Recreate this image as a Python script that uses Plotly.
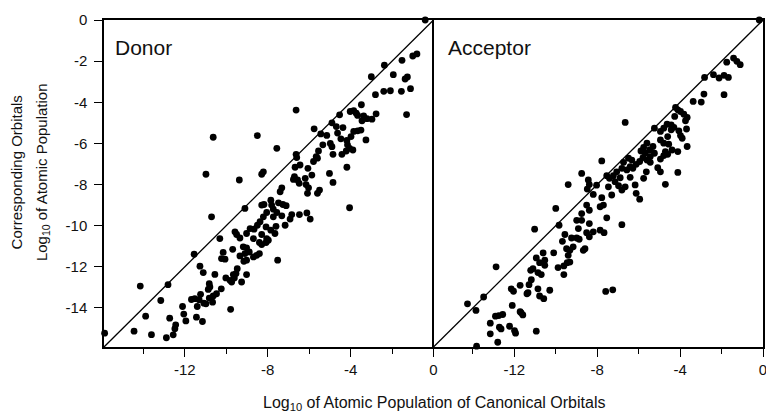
import plotly.graph_objects as go

# ---------------- data (log10 populations) ----------------
donor_x = [
    -0.4, -0.8, -1.0, -1.52, -2.37, -3.0, -1.94, -1.26, -1.37, -1.11, -1.55, -2.08, -2.4, -2.8,
    -1.3, -6.63, -3.48, -2.77, -4.02, -3.85, -3.73, -3.66, -3.37, -3.21, -2.97, -3.45, -4.53,
    -4.9, -4.69, -4.37, -5.76,
    -10.63, -8.5, -7.56, -5.44, -5.15, -4.63, -4.47, -4.18, -3.98, -3.85, -3.66, -3.5, -3.26,
    -4.98, -4.9, -5.34, -4.15, -4.05, -4.21, -3.89, -4.42, -4.85, -5.55, -5.66, -5.6, -5.79,
    -6.63, -6.6, -6.44, -6.68, -6.06, -4.18, -10.98, -9.37, -8.21, -8.29, -6.71, -6.76, -6.56,
    -6.48, -6.19, -5.87, -6.15, -6.03, -6.08, -5.5, -5.6, -5.02, -4.85, -7.32, -7.4, -9.1,
    -10.71, -4.05, -8.29, -8.18, -7.85, -7.81, -7.73, -7.48, -7.27, -7.11, -7.56, -8.05, -8.21,
    -7.73, -7.32, -6.84, -6.92, -6.47, -6.11, -5.95, -7.16, -7.6, -7.85, -8.08, -8.37, -8.5,
    -8.66, -8.85, -9.02, -9.34, -9.58, -9.5, -8.29, -7.65, -8.05, -10.31,
    -15.87, -14.45, -13.61, -12.89, -12.56, -12.48, -12.44, -12.73, -13.89, -13.16, -14.15,
    -12.81, -11.95, -12.05, -12.11, -11.44, -11.15, -11.68, -11.52, -11.31, -11.24, -11.4,
    -11.08, -10.98, -10.82, -10.66, -10.63, -10.47, -10.87, -10.82, -10.79, -10.55, -10.24,
    -11.55, -11.27, -11.11, -9.79, -10.02, -9.82, -9.74, -9.61, -9.53, -9.47, -9.66, -9.26,
    -9.02, -10.23, -10.06, -10.15, -9.69, -9.34, -9.15, -9.02, -9.1, -9.18, -9.02, -8.89,
    -8.69, -8.53, -8.4, -8.29, -8.08, -7.97, -8.4, -8.69, -7.52,
]
donor_y = [
    0.0, -1.65, -1.75, -1.96, -2.2, -2.76, -2.66, -2.77, -2.87, -3.34, -3.47, -3.44, -3.47, -3.63,
    -4.6, -4.38, -4.12, -4.56, -4.45, -4.41, -4.53, -4.64, -4.66, -4.8, -4.82, -4.9, -4.61,
    -5.0, -5.18, -5.23, -5.29,
    -5.7, -5.62, -6.24, -5.54, -5.61, -5.5, -5.78, -5.86, -5.67, -5.42, -5.39, -5.35, -5.83,
    -6.0, -6.16, -6.07, -6.07, -6.24, -6.37, -6.32, -6.53, -6.53, -6.37, -6.64, -6.72, -6.88,
    -6.53, -6.69, -7.05, -7.16, -7.21, -7.16, -7.5, -7.78, -7.38, -7.5, -7.62, -7.75, -7.78,
    -7.94, -7.7, -7.54, -8.0, -8.16, -8.43, -8.27, -8.43, -7.46, -7.9, -8.16, -8.35, -9.16,
    -9.57, -9.13, -9.0, -8.97, -8.76, -9.0, -9.2, -8.89, -8.97, -9.03, -9.36, -9.36, -9.57,
    -9.57, -9.52, -9.46, -9.68, -9.46, -9.38, -9.68, -9.98, -10.03, -10.22, -10.06, -9.81, -9.98,
    -10.17, -10.14, -10.38, -10.6, -10.3, -10.43, -10.43, -10.38, -10.63, -10.63,
    -15.23, -15.13, -15.3, -15.45, -15.31, -15.01, -14.82, -14.5, -14.4, -13.64, -12.94,
    -12.87, -14.63, -14.3, -13.93, -14.45, -14.66, -13.59, -13.55, -13.6, -13.34, -13.93,
    -13.77, -13.8, -13.52, -13.72, -13.42, -13.31, -13.1, -12.82, -12.98, -12.37, -13.07,
    -11.39, -11.97, -12.28, -14.07, -12.54, -12.66, -12.74, -12.54, -12.33, -12.09, -12.38, -12.74,
    -12.38, -11.6, -11.63, -11.3, -11.15, -11.47, -11.73, -11.68, -11.36, -11.03, -11.08, -11.28,
    -11.52, -11.44, -11.36, -10.92, -10.82, -10.71, -10.82, -10.63, -11.68,
]

acceptor_x = [
    -0.18, -1.42, -1.26, -1.1, -1.75, -2.39, -2.82, -1.88, -1.67, -2.12, -1.88, -2.85, -3.37,
    -2.98, -4.22, -4.11, -3.98, -4.26, -3.82, -3.66, -3.74, -4.63, -4.43, -4.79, -5.24, -6.65,
    -3.69,
    -4.95, -4.43, -4.3, -4.06, -3.98, -3.9, -4.6, -4.95, -4.79, -4.55, -4.39, -4.71, -4.79,
    -4.95, -4.6, -3.66, -4.11, -4.11, -4.71, -5.6, -5.76, -5.89, -5.68, -5.47, -5.31, -5.24,
    -5.44, -5.6, -5.79, -5.95, -6.12, -6.28, -6.41, -6.33, -6.49, -6.73, -6.81, -6.57, -6.41,
    -5.44, -5.08, -4.95, -5.63, -5.76, -7.06, -6.89, -7.22, -7.41, -7.54, -7.14, -6.97, -6.81,
    -6.65, -6.17, -6.12, -5.95, -7.3, -7.46, -7.78, -8.75, -8.43, -8.38, -8.48, -8.03, -8.19,
    -7.78, -9.4, -8.51, -8.38, -7.86, -7.7, -7.54, -8.75, -8.99, -8.75, -8.38, -8.91, -8.51,
    -8.19, -7.86, -7.67, -6.81, -10.0, -9.84, -11.02, -9.56, -9.24, -8.99,
    -13.82, -12.8, -13.16, -13.16, -12.72, -12.64, -12.23, -11.99, -11.94, -10.94, -12.91,
    -12.75, -12.56, -12.1, -11.67, -11.59, -11.72, -14.26, -13.85, -13.48, -12.88, -12.15,
    -12.04, -11.72, -11.39, -11.34, -11.29, -11.18, -10.86, -10.78, -10.58, -10.29, -11.21,
    -11.1, -10.94, -10.78, -10.53, -10.53, -10.61, -10.86, -10.7, -10.1, -9.89, -9.61, -9.61,
    -9.45, -9.32, -9.4, -9.32, -9.48, -9.16, -8.87, -8.67, -8.59, -9.68, -8.38, -7.59, -7.25,
]
acceptor_y = [
    0.0, -1.85, -2.01, -2.17, -2.05, -2.66, -2.79, -2.69, -2.79, -2.82, -3.63, -3.6, -3.96,
    -3.99, -4.25, -4.37, -4.45, -4.69, -4.58, -4.74, -4.9, -5.07, -5.1, -5.26, -5.26, -4.98,
    -5.3,
    -5.42, -5.34, -5.22, -5.39, -5.62, -5.75, -5.67, -5.83, -5.99, -6.04, -6.32, -6.4, -6.59,
    -6.76, -6.53, -6.15, -6.4, -7.41, -7.99, -5.99, -6.2, -6.37, -6.48, -6.32, -6.15, -6.48,
    -6.64, -6.81, -6.69, -6.88, -7.02, -7.21, -7.13, -6.81, -6.72, -6.92, -7.21, -7.29, -7.65,
    -6.92, -7.18, -7.38, -7.38, -7.7, -7.38, -7.67, -7.57, -7.7, -7.57, -7.86, -8.06, -8.27,
    -8.11, -8.02, -8.43, -8.71, -8.51, -8.11, -6.85, -7.46, -7.78, -8.0, -8.22, -8.03, -8.48,
    -8.64, -8.0, -9.0, -9.25, -9.08, -9.0, -9.62, -9.41, -9.74, -9.74, -9.9, -10.14, -10.34,
    -10.3, -10.22, -10.34, -9.95, -9.16, -9.98, -10.17, -10.43, -10.6, -10.6,
    -15.86, -15.67, -15.26, -14.74, -14.94, -15.02, -14.89, -15.1, -15.23, -15.13, -14.4,
    -14.37, -14.32, -13.88, -14.24, -14.34, -14.18, -13.8, -14.12, -13.47, -12.0, -13.07,
    -13.19, -12.9, -13.31, -13.26, -12.87, -12.63, -13.07, -13.42, -13.55, -13.14, -12.17,
    -12.09, -11.57, -11.8, -11.93, -11.68, -11.33, -12.28, -12.38, -11.32, -12.04, -11.96, -12.38,
    -11.8, -11.77, -11.44, -11.2, -11.12, -11.03, -10.66, -11.2, -11.12, -10.76, -10.54, -13.2, -13.12,
]

axis_range = [-15.9, 0]
x_tickvals = [-12, -8, -4, 0]
x_ticktext = ["-12", "-8", "-4", "0"]
x_minorvals = [-14, -10, -6, -2]
y_tickvals = [0, -2, -4, -6, -8, -10, -12, -14]
y_ticktext = ["0", "-2", "-4", "-6", "-8", "-10", "-12", "-14"]
panel_names = ["Donor", "Acceptor"]

FONT = "Liberation Sans, Arial, sans-serif"
INK = "#111111"

fig = go.Figure()

for i, (xs, ys) in enumerate([(donor_x, donor_y), (acceptor_x, acceptor_y)]):
    xa = "x" if i == 0 else "x2"
    ya = "y" if i == 0 else "y2"
    fig.add_trace(go.Scatter(
        x=axis_range, y=axis_range, mode="lines",
        line=dict(color="black", width=1.3),
        xaxis=xa, yaxis=ya, showlegend=False, hoverinfo="skip",
    ))
    fig.add_trace(go.Scatter(
        x=xs, y=ys, mode="markers",
        marker=dict(color="black", size=6.8, line=dict(width=0)),
        xaxis=xa, yaxis=ya, showlegend=False, cliponaxis=False,
    ))

common_x = dict(
    range=axis_range, tickmode="array", tickvals=x_tickvals, ticktext=x_ticktext,
    ticks="outside", ticklen=8, tickwidth=1.3, tickcolor="black",
    showline=True, linecolor="black", linewidth=1.5, mirror=True,
    showgrid=False, zeroline=False, automargin=False,
    ticklabeloverflow="allow",
    tickfont=dict(family=FONT, size=15, color=INK),
    minor=dict(tickmode="array", tickvals=x_minorvals, ticks="outside",
               ticklen=5, tickwidth=1.3, tickcolor="black", showgrid=False),
)

fig.update_layout(
    width=766, height=418,
    margin=dict(l=104, r=3, t=20, b=71),
    paper_bgcolor="white", plot_bgcolor="white",
    font=dict(family=FONT, color=INK),
    xaxis=dict(domain=[0, 0.5], anchor="y", **common_x),
    xaxis2=dict(domain=[0.5, 1.0], anchor="y2", **common_x),
    yaxis=dict(
        domain=[0, 1], anchor="x", range=axis_range,
        tickmode="array", tickvals=y_tickvals, ticktext=y_ticktext,
        ticks="outside", ticklen=8, tickwidth=1.3, tickcolor="black",
        ticklabelstandoff=4,
        showline=True, linecolor="black", linewidth=1.5, mirror=False,
        showgrid=False, zeroline=False, automargin=False,
        tickfont=dict(family=FONT, size=15, color=INK),
    ),
    yaxis2=dict(
        domain=[0, 1], anchor="x2", range=axis_range,
        showticklabels=False, ticks="",
        showline=True, linecolor="black", linewidth=1.5, mirror=True,
        showgrid=False, zeroline=False, automargin=False,
    ),
)

annotations = [
    dict(text=panel_names[0], xref="x domain", yref="y domain", x=0.026, y=0.917,
         xanchor="left", yanchor="middle", showarrow=False,
         font=dict(family=FONT, size=21, color=INK)),
    dict(text=panel_names[1], xref="x2 domain", yref="y2 domain", x=0.038, y=0.917,
         xanchor="left", yanchor="middle", showarrow=False,
         font=dict(family=FONT, size=21, color=INK)),
    dict(text="Corresponding Orbitals", xref="paper", yref="paper",
         x=-0.133, y=0.535, xanchor="center", yanchor="middle", textangle=-90,
         showarrow=False, font=dict(family=FONT, size=15, color=INK)),
    dict(text="Log<sub>10</sub> of Atomic Population", xref="paper", yref="paper",
         x=-0.094, y=0.535, xanchor="center", yanchor="middle", textangle=-90,
         showarrow=False, font=dict(family=FONT, size=15, color=INK)),
    dict(text="Log<sub>10</sub> of Atomic Population of Canonical Orbitals",
         xref="paper", yref="paper", x=0.5, y=-0.172, xanchor="center", yanchor="middle",
         showarrow=False, font=dict(family=FONT, size=16, color=INK)),
]
fig.update_layout(annotations=annotations)

fig.write_html(
    "out.html",
    config={"displayModeBar": False},
    post_script="document.body.style.margin='0';document.body.style.overflow='hidden';",
)
